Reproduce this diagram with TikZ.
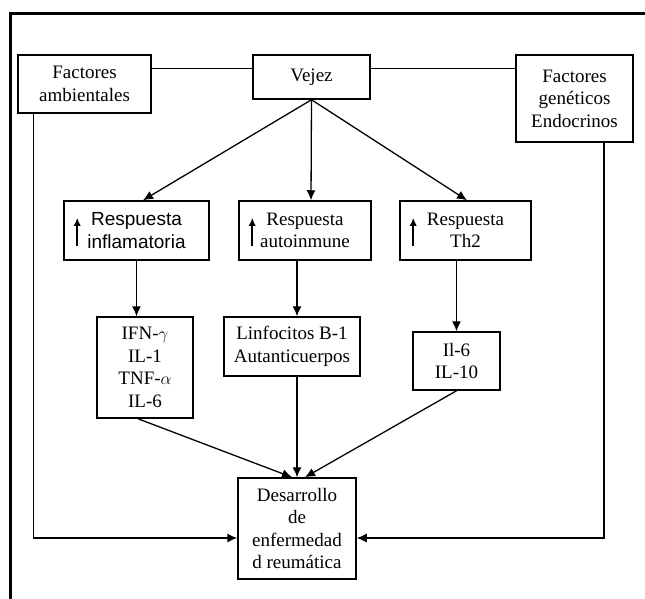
\documentclass[tikz,border=0pt]{standalone}
\usepackage{fontspec}
\setmainfont{Liberation Serif}
\newfontfamily\arialfont{Liberation Sans}
\usetikzlibrary{arrows.meta}

\begin{document}
\begin{tikzpicture}
    [x=1pt, y=-1pt, font=\fontsize{19}{22.5}\selectfont,
     box/.style={draw, line width=1.5pt, align=center, inner sep=0pt},
     >={Latex[length=10pt,width=9pt]}, line width=1.3pt]
    \clip (0,0) rectangle (645,598);
    \draw[line width=3pt] (10,620) -- (10,13) -- (660,13);
    \node[box, minimum width=133pt, minimum height=58pt] (fa) at (84.5,84) {Factores\\ambientales};
    \node[box, minimum width=117pt, minimum height=44pt] (vej) at (311.5,77) {Vejez};
    \node[box, minimum width=117pt, minimum height=87pt] (fg) at (574.5,98.5) {Factores\\gen\'eticos\\Endocrinos};
    \node[box, minimum width=145pt, minimum height=59pt] (ri) at (136.5,230.5) {\arialfont Respuesta\\\arialfont inflamatoria};
    \node[box, minimum width=132pt, minimum height=59pt] (ra) at (305,230.5) {Respuesta\\autoinmune};
    \node[box, minimum width=131pt, minimum height=59pt] (rt) at (465.5,230.5) {Respuesta\\Th2};
    \node[box, minimum width=96pt, minimum height=101pt] (ifn) at (145,367.5) {IFN-$\gamma$\\IL-1\\TNF-$\alpha$\\IL-6};
    \node[box, minimum width=136pt, minimum height=59pt] (lin) at (292,346.5) {Linfocitos B-1\\Autanticuerpos};
    \node[box, minimum width=87pt, minimum height=58pt] (il) at (456.5,361) {Il-6\\IL-10};
    \node[box, minimum width=118pt, minimum height=101pt] (des) at (297,528.5) {Desarrollo\\de\\enfermedad\\d reum\'atica};
    % flechitas dentro de las respuestas
    \foreach \n in {ri,ra,rt}
        \draw[->, >={Latex[length=8pt,width=7pt]}, line width=1.8pt]
            ([xshift=14pt,yshift=15pt]\n.south west) -- ++(0,-28);
    \draw ([yshift=-14pt]fa.north east) -- ([yshift=-14pt]vej.north west);
    \draw ([yshift=-14pt]vej.north east) -- ([yshift=-14pt]fg.north west);
    \foreach \to/\dx in {ri/6.5,ra/6,rt/1.5}
        \draw[->] (vej.south) -- ([xshift=\dx pt]\to.north);
    \draw[->] (ri.south) -- (ri.south |- ifn.north);
    \draw[->] (ra.south -| des.north) -- (lin.north -| des.north);
    \draw[->] (rt.south -| il.north) -- (il.north);
    \draw[->] ([xshift=-7pt]ifn.south) -- ([xshift=-5pt]des.north);
    \draw[->] (lin.south -| des.north) -- (des.north);
    \draw[->] (il.south) -- ([xshift=8pt]des.north);
    \draw[->] ([xshift=16pt]fa.south west) |- ([yshift=-9.5pt]des.west);
    \draw[->] ([xshift=29.5pt]fg.south) |- ([yshift=-9.5pt]des.east);
\end{tikzpicture}
\end{document}
